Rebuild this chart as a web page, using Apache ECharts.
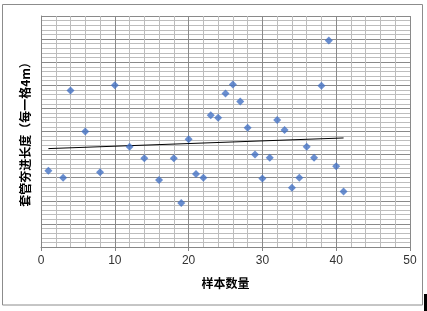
<!DOCTYPE html>
<html>
<head>
<meta charset="utf-8">
<script src="https://cdn.jsdelivr.net/npm/echarts@6/dist/echarts.min.js"></script>
<style>html,body{margin:0;padding:0;background:#fff;}#c{width:427px;height:311px;}</style>
</head>
<body>
<div id="c"></div>
<script>
var sampleX = [1,3,4,6,8,10,12,14,16,18,19,20,21,22,23,24,25,26,27,28,29,30,31,32,33,34,35,36,37,38,39,40,41];
var lengthY = [16.5,15,33.9,25,16.2,35,21.7,19.2,14.5,19.2,9.5,23.3,15.8,15,28.5,28,33.2,35.2,31.5,25.8,20,14.8,19.3,27.5,25.3,12.8,15,21.7,19.3,34.9,44.7,17.5,12];
var trendX = [1, 41];
var trendY = [21.3, 23.6];
var xTitle = '样本数量';
var yTitle = '套管夯进长度（每一格4m）';

var points = sampleX.map(function(x, i){ return [x, lengthY[i]]; });
var trend = trendX.map(function(x, i){ return [x, trendY[i]]; });

var chart = echarts.init(document.getElementById('c'));
chart.setOption({
  animation: false,
  backgroundColor: '#fff',
  grid: {left: 41, right: 17, top: 16, bottom: 64},
  xAxis: {
    type: 'value', min: 0, max: 50, interval: 10,
    name: xTitle, nameLocation: 'middle', nameGap: 30,
    nameTextStyle: {fontFamily: 'Noto Sans CJK SC', fontSize: 12, fontWeight: 'bold', color: '#000'},
    axisLine: {show: true, lineStyle: {color: '#868686', width: 1}},
    axisTick: {show: true, length: 4, lineStyle: {color: '#868686'}},
    axisLabel: {fontFamily: 'Liberation Sans', fontSize: 12, color: '#333', margin: 8},
    splitLine: {show: true, lineStyle: {color: '#8a8a8a', width: 1}},
    minorTick: {show: false, splitNumber: 5},
    minorSplitLine: {show: true, lineStyle: {color: '#bdbdbd', width: 1}}
  },
  yAxis: {
    type: 'value', min: 0, max: 50, interval: 5,
    name: yTitle, nameLocation: 'middle', nameGap: 10, nameRotate: 90,
    nameTextStyle: {fontFamily: 'Noto Sans CJK SC', fontSize: 12, fontWeight: 'bold', color: '#000'},
    axisLine: {show: true, lineStyle: {color: '#868686', width: 1}},
    axisTick: {show: false},
    axisLabel: {show: false},
    splitLine: {show: true, lineStyle: {color: '#8a8a8a', width: 1}},
    minorTick: {show: false, splitNumber: 5},
    minorSplitLine: {show: true, lineStyle: {color: '#bdbdbd', width: 1}}
  },
  graphic: [
    {type: 'rect', shape: {x: 2.5, y: 4.5, width: 420, height: 300.5}, style: {fill: 'none', stroke: '#8c8c8c', lineWidth: 1}, silent: true},
    {type: 'rect', shape: {x: 424, y: 294, width: 3, height: 17}, style: {fill: '#000'}, silent: true}
  ],
  series: [
    {type: 'scatter', data: points, symbol: 'diamond', symbolSize: 8, itemStyle: {color: '#4472C4'}, z: 3},
    {type: 'line', data: trend, symbol: 'none', lineStyle: {color: '#000', width: 1}, z: 2}
  ]
});
</script>
</body>
</html>
